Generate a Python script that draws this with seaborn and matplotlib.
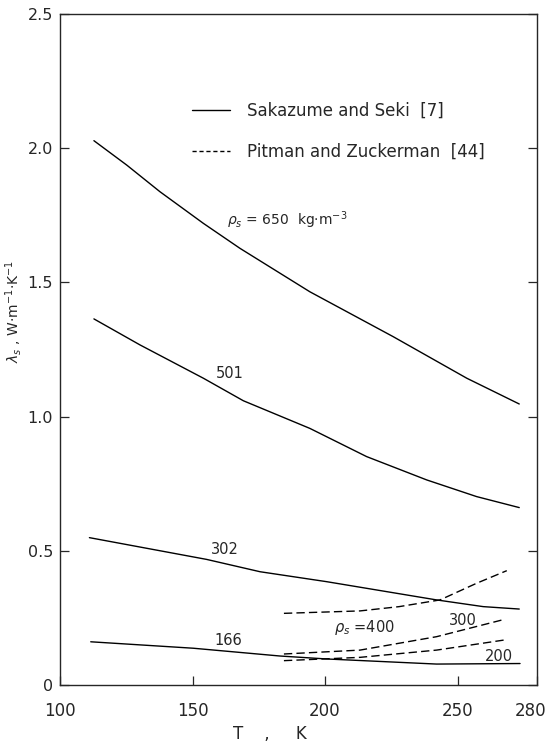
import matplotlib
matplotlib.use("Agg")
import matplotlib.pyplot as plt
import matplotlib.transforms as mtrans
import seaborn as sns
from matplotlib.lines import Line2D

# ---- data ----
T_650 = [112.8, 125.2, 137.7, 154.1, 167.9, 194.3, 225.7, 253.5, 273.3]
L_650 = [2.028, 1.937, 1.838, 1.720, 1.627, 1.465, 1.298, 1.143, 1.047]

T_501 = [112.8, 130.2, 154.1, 169.2, 194.3, 215.7, 238.4, 257.2, 273.3]
L_501 = [1.364, 1.267, 1.143, 1.059, 0.956, 0.851, 0.764, 0.702, 0.661]

T_302 = [111.1, 155.3, 175.5, 200.6, 242.1, 259.7, 273.3]
L_302 = [0.549, 0.468, 0.422, 0.385, 0.317, 0.292, 0.283]

T_166 = [111.6, 150.3, 183.0, 200.6, 242.1, 273.6]
L_166 = [0.161, 0.137, 0.108, 0.097, 0.078, 0.080]

T_400 = [184.5, 213.2, 228.0, 243.4, 257.2, 268.6]
L_400 = [0.267, 0.276, 0.292, 0.317, 0.379, 0.426]

T_300 = [184.5, 213.2, 242.1, 267.9]
L_300 = [0.1155, 0.130, 0.180, 0.245]

T_200 = [184.5, 213.2, 242.1, 267.9]
L_200 = [0.0907, 0.103, 0.130, 0.168]

x_ticks = [100, 150, 200, 250, 280]
y_ticks = [0, 0.5, 1.0, 1.5, 2.0, 2.5]
y_tick_labels = ["0", "0.5", "1.0", "1.5", "2.0", "2.5"]

legend_labels = ["Sakazume and Seki  [7]", "Pitman and Zuckerman  [44]"]

# curve annotations: (text, T, lambda, ha, size)
annotations = [
    (r"$\rho_s$ = 650  kg·m$^{-3}$", 163.0, 1.733, "left", 10),
    ("501", 164.0, 1.162, "center", 10.5),
    ("302", 162.3, 0.503, "center", 10.5),
    ("166", 163.5, 0.165, "center", 10.5),
    (r"$\rho_s$ =400", 215.0, 0.216, "center", 10.5),
    ("300", 252.2, 0.242, "center", 10.5),
    ("200", 265.8, 0.105, "center", 10.5),
]

solid = [(T_650, L_650), (T_501, L_501), (T_302, L_302), (T_166, L_166)]
dashed = [(T_400, L_400), (T_300, L_300), (T_200, L_200)]

# ---- style ----
sns.set_style("ticks")
plt.rcParams["font.family"] = ["DejaVu Sans"]
plt.rcParams["mathtext.fontset"] = "dejavusans"

fig = plt.figure(figsize=(5.5, 7.53), dpi=100)
ax = fig.add_axes([60 / 550, 1 - 685 / 753, 477 / 550, 671 / 753])

for T, L in solid:
    sns.lineplot(x=T, y=L, ax=ax, color="black", lw=1.0, sort=False,
                 estimator=None)
for T, L in dashed:
    sns.lineplot(x=T, y=L, ax=ax, color="black", lw=1.0, sort=False,
                 estimator=None, linestyle=(0, (6, 3)))

ax.set_xlim(100, 280)
ax.set_ylim(0, 2.5)
ax.set_xticks(x_ticks)
ax.set_xticklabels([str(v) for v in x_ticks])
ax.set_yticks(y_ticks)
ax.set_yticklabels(y_tick_labels)
ax.tick_params(direction="in", length=6.5, width=0.9, right=True, top=False)
ax.tick_params(axis="x", labelsize=12, pad=12)
ax.tick_params(axis="y", labelsize=11.5, pad=5)
for s in ax.spines.values():
    s.set_visible(True)
    s.set_linewidth(1.0)

# nudge the last x tick label so it stays inside the figure
last = ax.get_xticklabels()[-1]
last.set_transform(last.get_transform() +
                   mtrans.ScaledTranslation(-6 / 100, 0, fig.dpi_scale_trans))

ax.set_xlabel("T    ,     K", fontsize=12)
ax.xaxis.set_label_coords(0.44, -0.06)
ax.set_ylabel(r"$\lambda_s$ , W·m$^{-1}$·K$^{-1}$", fontsize=10)
ax.yaxis.set_label_coords(-0.076, 0.556)

for txt, T, L, ha, fs in annotations:
    ax.text(T, L, txt, fontsize=fs, ha=ha, va="center")

handles = [Line2D([], [], color="black", lw=1.0),
           Line2D([], [], color="black", lw=1.0, linestyle=(0, (3, 2)))]
ax.legend(handles, legend_labels, loc="upper left",
          bbox_to_anchor=(0.277, 0.869), frameon=False, fontsize=12,
          handlelength=2.3, handletextpad=1.0, labelspacing=1.4,
          borderpad=0, borderaxespad=0)

fig.savefig("out.png", dpi=100)
